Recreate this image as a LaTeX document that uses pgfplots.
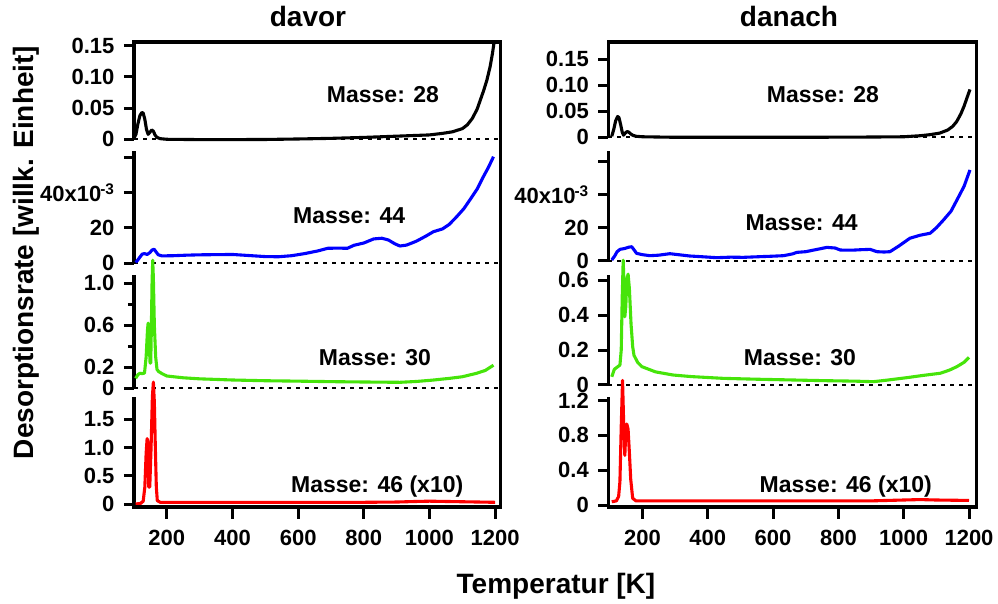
\documentclass[border=0pt]{standalone}
\usepackage{pgfplots}
\pgfplotsset{compat=1.18}
\usepackage{fontspec}
\setmainfont{Liberation Sans}

\definecolor{c28}{RGB}{0,0,0}
\definecolor{c44}{RGB}{0,0,255}
\definecolor{c30}{RGB}{70,228,10}
\definecolor{c46}{RGB}{255,0,0}

\newcommand{\tickfont}{\bfseries\fontsize{22}{22}\selectfont}
\newcommand{\massfont}{\bfseries\fontsize{23}{23}\selectfont}
\newcommand{\labelfont}{\bfseries\fontsize{28}{28}\selectfont}

\pgfplotsset{
  panel/.style={scale only axis, clip=false, anchor=south west,
    axis x line=none, axis y line*=left,
    axis line style={line width=3.2pt,-},
    tick align=outside, major tick length=10pt, minor tick length=6pt,
    tick style={line width=3pt,black},
    yticklabel style={font=\tickfont, inner ysep=0pt, xshift=-6pt},
  },
  leftcol/.style={xmin=100,xmax=1217,width=366.7pt},
  rightcol/.style={xmin=95.4,xmax=1223.6,width=368.4pt},
  frame/.style={scale only axis, clip=false, anchor=south west,
    ymin=0, ymax=1, ytick=\empty,
    axis x line*=bottom, axis y line=none,
    axis line style={line width=3.2pt,-},
    tick align=outside, major tick length=12pt,
    tick style={line width=3pt,black},
    xtick={200,400,...,1200},
    xticklabels={200,400,600,800,1000,1200},
    xticklabel style={font=\tickfont, yshift=-8pt},
  },
  trace/.style={line width=3.1pt, line join=round},
  zero/.style={black, line width=1.6pt, dash pattern=on 4pt off 5pt},
}

\begin{document}
\begin{tikzpicture}
\useasboundingbox (0pt,0pt) rectangle (998pt,604pt);

% ---------------- davor ----------------
% Masse 28
\begin{axis}[panel, leftcol, at={(134pt,464.7pt)}, height=97pt,
  ymin=0, ymax=0.15545,
  ytick={0,0.05,0.10,0.15}, yticklabels={0,0.05,0.10,0.15}]
\addplot[zero] coordinates {(100,0) (1217,0)};
\addplot[trace, c28] coordinates {
(100,0.002)(106,0.008)(112,0.025)(118,0.038)(124,0.043)(128,0.042)(133,0.032)
(138,0.016)(143,0.008)(148,0.011)(154,0.015)(159,0.013)(164,0.007)(170,0.003)
(180,0.001)(200,0.0)(300,-0.0005)(400,-0.0005)(500,-0.0003)(600,0.0005)
(700,0.0015)(800,0.003)(900,0.005)(950,0.006)(1000,0.007)(1040,0.0095)
(1070,0.012)(1100,0.017)(1115,0.023)(1130,0.033)(1145,0.048)(1155,0.063)
(1165,0.078)(1175,0.095)(1185,0.117)(1192,0.138)(1197,0.156)};
\end{axis}
% Masse 44
\begin{axis}[panel, leftcol, at={(134pt,340.7pt)}, height=112.6pt,
  ymin=0, ymax=63.8,
  ytick={0,20,40,60}, yticklabels={0,20,{40x10\kern-1pt\textsuperscript{-3}},{}}]
\addplot[zero] coordinates {(100,0) (1217,0)};
\addplot[trace, c44] coordinates {
(105,0.5)(110,1.5)(118,3.5)(125,5.2)(132,5.5)(140,5)(148,6)(155,7.5)(161,8)
(167,6.5)(174,4.8)(185,4.2)(220,4.3)(260,4.6)(300,4.8)(350,4.9)(400,5.0)
(450,4.4)(500,3.8)(540,3.7)(580,4.3)(620,5.5)(660,7)(690,8.5)(720,8.6)
(750,8.5)(770,10.2)(800,11.5)(830,13.8)(855,14.2)(875,13.2)(895,11)(910,9.8)
(930,10.3)(960,12.5)(990,15.5)(1012,17.9)(1040,19.5)(1060,22)(1083,26.4)
(1105,31)(1123,35.9)(1145,42)(1164,49)(1180,54.5)(1195,60.4)};
\end{axis}
% Masse 30
\begin{axis}[panel, leftcol, at={(134pt,215.7pt)}, height=113.3pt,
  ymin=0, ymax=1.079,
  ytick={0,0.2,0.6,1.0}, yticklabels={0,0.2,0.6,1.0},
  minor ytick={0.4,0.8}]
\addplot[zero] coordinates {(100,0) (1217,0)};
\addplot[trace, c30] coordinates {
(105,0.095)(112,0.13)(118,0.143)(125,0.14)(132,0.145)(137,0.3)(141,0.55)
(143,0.62)(146,0.45)(149,0.24)(151,0.24)(153,0.6)(155,1.0)(157,1.22)
(159,1.05)(162,0.6)(166,0.3)(170,0.18)(175,0.16)(185,0.14)(200,0.117)
(250,0.1)(300,0.09)(400,0.079)(500,0.072)(600,0.068)(707,0.063)(800,0.06)
(910,0.057)(960,0.065)(1010,0.078)(1062,0.095)(1100,0.11)(1144,0.143)
(1170,0.17)(1195,0.22)};
\end{axis}
% Masse 46 (x10)
\begin{axis}[panel, leftcol, at={(134pt,97pt)}, height=110.3pt,
  ymin=-0.053, ymax=1.902,
  ytick={0,0.5,1,1.5}, yticklabels={0,0.5,1.0,1.5}]
\addplot[trace, c46] coordinates {
(105,0.0)(120,0.01)(128,0.05)(133,0.3)(137,0.9)(140,1.16)(142,1.1)(145,0.3)
(148,0.3)(152,1.0)(156,1.9)(159,2.16)(162,1.8)(165,1.0)(168,0.3)(171,0.06)
(180,0.03)(250,0.03)(400,0.03)(600,0.03)(800,0.03)(900,0.035)(960,0.045)
(1000,0.05)(1050,0.045)(1100,0.04)(1150,0.035)(1200,0.03)};
\end{axis}
% frame and temperature axis
\begin{axis}[frame, leftcol, at={(134pt,97pt)}, height=465pt]
\draw[line width=3.2pt, line cap=rect, line join=miter]
  (rel axis cs:0,1) -- (rel axis cs:1,1) -- (rel axis cs:1,0) -- (rel axis cs:0,0);
\end{axis}

% ---------------- danach ----------------
% Masse 28
\begin{axis}[panel, rightcol, at={(608.3pt,466.7pt)}, height=95.3pt,
  ymin=0, ymax=0.1833,
  ytick={0,0.05,0.10,0.15}, yticklabels={0,0.05,0.10,0.15}]
\addplot[zero] coordinates {(95.4,0) (1223.6,0)};
\addplot[trace, c28] coordinates {
(106,0.002)(112,0.015)(118,0.032)(124,0.040)(128,0.038)(133,0.025)(138,0.01)
(142,0.004)(147,0.008)(153,0.011)(158,0.010)(163,0.007)(170,0.004)(180,0.002)
(200,0.001)(300,0)(500,0)(700,0)(900,0.0005)(1000,0.001)(1050,0.003)
(1080,0.005)(1110,0.008)(1135,0.014)(1150,0.021)(1162,0.03)(1175,0.045)
(1185,0.06)(1195,0.078)(1203,0.092)};
\end{axis}
% Masse 44
\begin{axis}[panel, rightcol, at={(608.3pt,343pt)}, height=110.3pt,
  ymin=0, ymax=66.4,
  ytick={0,20,40,60}, yticklabels={0,20,{40x10\kern-1pt\textsuperscript{-3}},{}}]
\addplot[zero] coordinates {(95.4,0) (1223.6,0)};
\addplot[trace, c44] coordinates {
(106,0.6)(115,3)(122,5.5)(131,7)(145,7.5)(158,8.3)(167,8.6)(175,6.5)(182,4.6)
(200,3.8)(223,3.2)(250,3.5)(284,4.4)(310,3.8)(345,3.0)(380,2.6)(427,2.0)
(470,2.3)(509,2.2)(560,2.6)(600,2.9)(632,3.2)(660,4.3)(673,5.2)(700,5.6)
(730,6.8)(765,8.2)(790,7.8)(806,6.6)(840,6.5)(870,6.8)(897,7.0)(918,5.6)
(940,5.4)(958,5.6)(985,9)(1019,13.7)(1050,15.5)(1081,16.7)(1100,20)
(1122,24.7)(1145,30)(1163,36.7)(1185,45)(1203,54.8)};
\end{axis}
% Masse 30
\begin{axis}[panel, rightcol, at={(608.3pt,219pt)}, height=110pt,
  ymin=0, ymax=0.629,
  ytick={0,0.2,0.4,0.6}, yticklabels={0,0.2,0.4,0.6}]
\addplot[zero] coordinates {(95.4,0) (1223.6,0)};
\addplot[trace, c30] coordinates {
(106,0.047)(114,0.09)(121,0.1)(131,0.114)(135,0.2)(138,0.5)(141,0.714)
(143,0.6)(146,0.39)(149,0.45)(152,0.6)(156,0.634)(160,0.55)(165,0.35)
(170,0.22)(174,0.17)(185,0.13)(198,0.105)(240,0.075)(294,0.057)(350,0.048)
(447,0.038)(550,0.033)(652,0.029)(750,0.025)(850,0.022)(907,0.019)
(950,0.028)(1010,0.042)(1060,0.055)(1112,0.067)(1140,0.085)(1163,0.105)
(1185,0.13)(1200,0.158)};
\end{axis}
% Masse 46 (x10)
\begin{axis}[panel, rightcol, at={(608.3pt,97pt)}, height=110.3pt,
  ymin=-0.02, ymax=1.243,
  ytick={0,0.4,0.8,1.2}, yticklabels={0,0.4,0.8,1.2}]
\addplot[trace, c46] coordinates {
(106,0.04)(120,0.05)(127,0.1)(131,0.27)(135,0.9)(139,1.43)(142,1.0)(146,0.57)
(149,0.85)(152,0.93)(156,0.87)(160,0.6)(164,0.3)(170,0.08)(180,0.05)
(300,0.05)(500,0.05)(700,0.05)(900,0.05)(1000,0.06)(1050,0.065)(1100,0.06)
(1200,0.055)};
\end{axis}
% frame and temperature axis
\begin{axis}[frame, rightcol, at={(608.3pt,97pt)}, height=465pt]
\draw[line width=3.2pt, line cap=rect, line join=miter]
  (rel axis cs:0,1) -- (rel axis cs:1,1) -- (rel axis cs:1,0) -- (rel axis cs:0,0);
\end{axis}

% titles, mass labels and axis labels
\node[anchor=base, font=\labelfont] at (308pt,577.3pt) {davor};
\node[anchor=base, font=\labelfont] at (789pt,577.3pt) {danach};

\node[anchor=base, font=\massfont] at (383pt,501.3pt) {Masse: 28};
\node[anchor=base, font=\massfont] at (349.2pt,380pt) {Masse: 44};
\node[anchor=base, font=\massfont] at (375pt,238.3pt) {Masse: 30};
\node[anchor=base, font=\massfont] at (377.2pt,111.3pt) {Masse: 46 (x10)};

\node[anchor=base, font=\massfont] at (823pt,501.7pt) {Masse: 28};
\node[anchor=base, font=\massfont] at (801.7pt,373.3pt) {Masse: 44};
\node[anchor=base, font=\massfont] at (800pt,238.3pt) {Masse: 30};
\node[anchor=base, font=\massfont] at (845.8pt,111.3pt) {Masse: 46 (x10)};

\node[anchor=base, rotate=90, font=\labelfont] at (33.3pt,351.5pt)
  {Desorptionsrate [willk. Einheit]};
\node[anchor=base, font=\labelfont] at (556pt,10.7pt) {Temperatur [K]};
\end{tikzpicture}
\end{document}
